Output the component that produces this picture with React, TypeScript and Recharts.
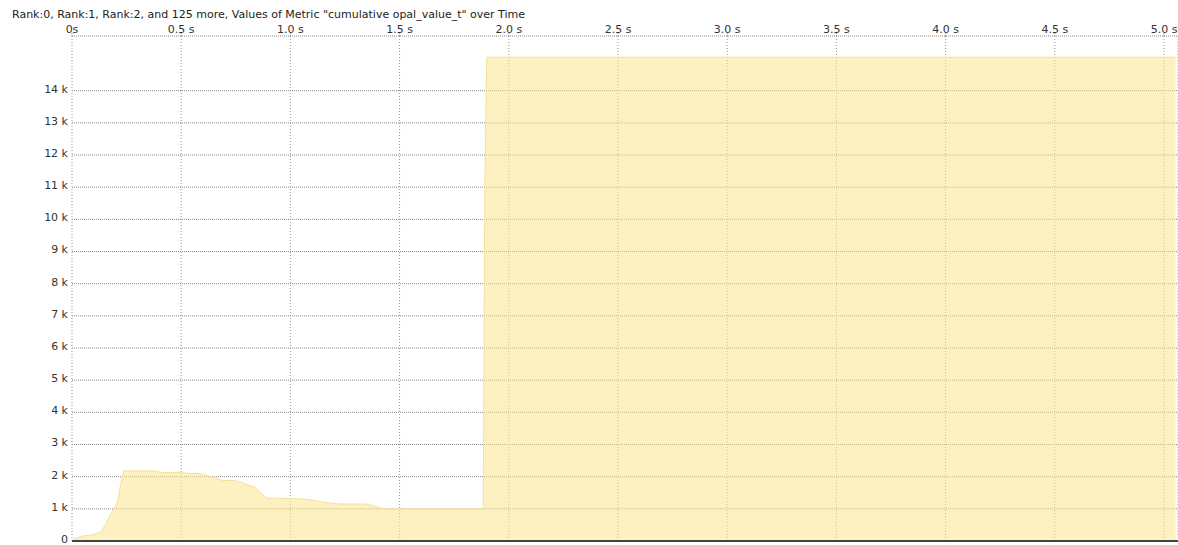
import { Area, AreaChart, CartesianGrid, XAxis, YAxis } from "recharts";

const TITLE = 'Rank:0, Rank:1, Rank:2, and 125 more, Values of Metric "cumulative opal_value_t" over Time';

// seconds
const times = [
  0, 0.005, 0.05, 0.089, 0.112, 0.135, 0.158, 0.18, 0.196, 0.211, 0.222, 0.237, 0.379, 0.409, 0.508, 0.527,
  0.577, 0.615, 0.646, 0.691, 0.745, 0.768, 0.799, 0.837, 0.867, 0.89, 0.997, 1.066, 1.103, 1.134, 1.195,
  1.226, 1.348, 1.394, 1.432, 1.883, 1.89, 1.899, 5.053
];

const values = [
  0, 50, 160, 180, 230, 300, 570, 880, 1050, 1270, 1750, 2180, 2180, 2130, 2130, 2100,
  2100, 2050, 1980, 1880, 1880, 1840, 1760, 1670, 1480, 1340, 1320, 1300, 1270, 1220, 1170,
  1150, 1150, 1060, 1000, 1000, 11000, 15040, 15040
];

const xTicks = [0, 0.5, 1, 1.5, 2, 2.5, 3, 3.5, 4, 4.5, 5];
const yTicks = [0, 1000, 2000, 3000, 4000, 5000, 6000, 7000, 8000, 9000, 10000, 11000, 12000, 13000, 14000];

const data = times.map((t, i) => ({ t, v: values[i] }));

const FONT = "'DejaVu Sans', sans-serif";

const fmtX = (v: number) => (v === 0 ? "0s" : `${v.toFixed(1)} s`);
const fmtY = (v: number) => (v === 0 ? "0" : `${v / 1000} k`);

export default function App() {
  return (
    <div style={{ position: "absolute", left: 0, top: 0, width: 1178, height: 545, background: "#fff" }}>
      <div
        style={{
          position: "absolute",
          left: 12,
          top: 8,
          fontFamily: FONT,
          fontSize: 11,
          color: "#222",
          whiteSpace: "nowrap",
          lineHeight: "13px"
        }}
      >
        {TITLE}
      </div>
      <AreaChart width={1178} height={545} data={data} margin={{ top: 0, right: 0, bottom: 0, left: 0 }}>
        <CartesianGrid horizontal={true} vertical={false} stroke="#888" strokeDasharray="1 1" />
        <CartesianGrid horizontal={false} vertical={true} stroke="#999" strokeDasharray="1 2" />
        <XAxis
          xAxisId={0}
          dataKey="t"
          type="number"
          orientation="top"
          domain={[0, 5.064]}
          ticks={xTicks}
          tickFormatter={fmtX}
          height={36}
          axisLine={false}
          tickLine={{ stroke: "#888", strokeDasharray: "1 1" }}
          tickSize={3}
          tickMargin={0}
          tick={{ fontSize: 11, fontFamily: FONT, fill: "#333" }}
          interval={0}
        />
        <XAxis
          xAxisId={1}
          dataKey="t"
          type="number"
          orientation="bottom"
          domain={[0, 5.064]}
          ticks={xTicks}
          height={4}
          axisLine={{ stroke: "#444", strokeWidth: 2 }}
          tickLine={{ stroke: "#999", strokeDasharray: "1 1" }}
          tickSize={4}
          tick={false}
          interval={0}
        />
        <YAxis
          type="number"
          domain={[0, 15700]}
          ticks={yTicks}
          tickFormatter={fmtY}
          width={72}
          axisLine={false}
          tickLine={false}
          tickSize={2}
          tickMargin={2}
          tick={{ fontSize: 11, fontFamily: FONT, fill: "#333", dy: -2 }}
          interval={0}
        />
        <Area
          xAxisId={0}
          type="linear"
          dataKey="v"
          stroke="#f5e19a"
          strokeWidth={1}
          fill="#fbe68f"
          fillOpacity={0.55}
          isAnimationActive={false}
          dot={false}
          activeDot={false}
        />
      </AreaChart>
    </div>
  );
}
